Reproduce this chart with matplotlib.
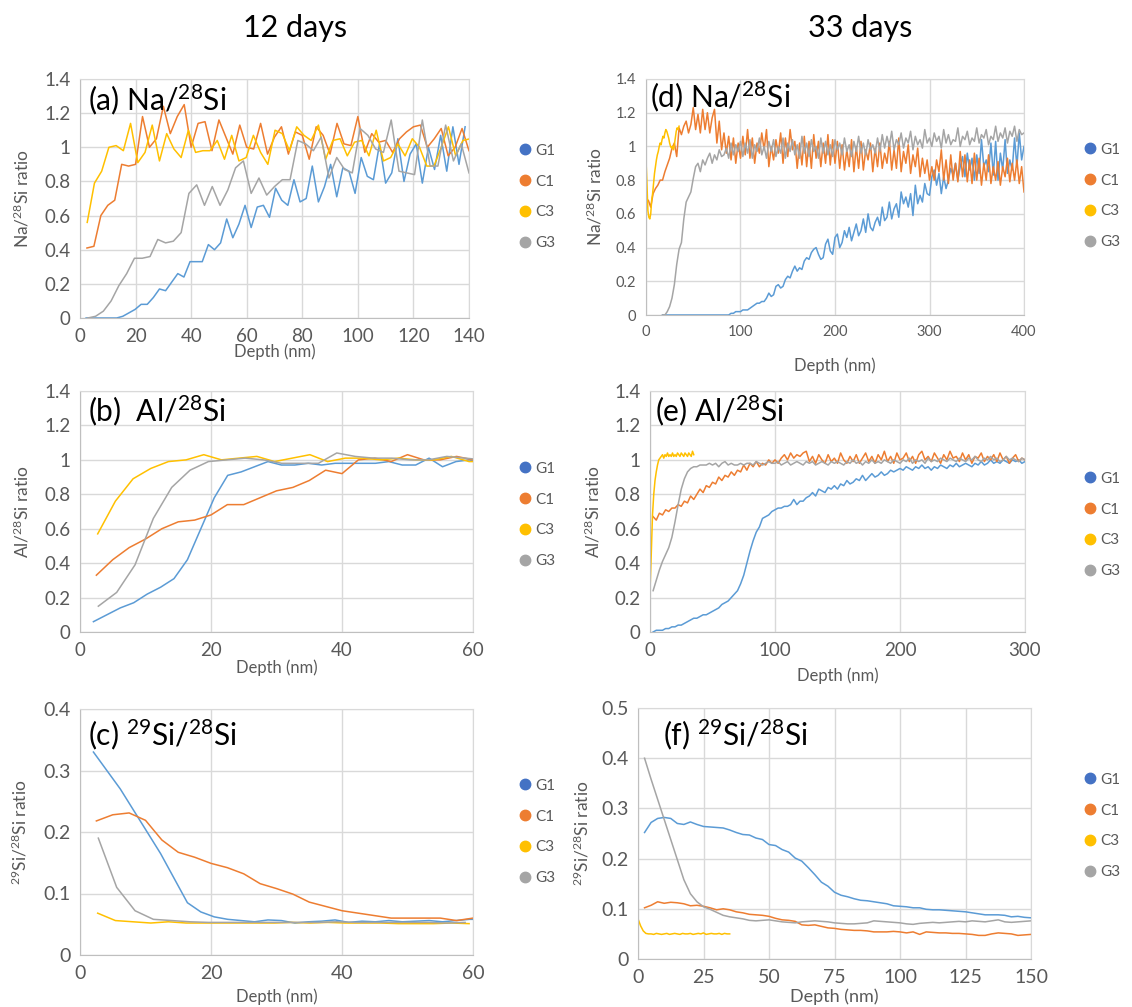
import numpy as np
import matplotlib
matplotlib.use('Agg')
import matplotlib.pyplot as plt
from matplotlib.lines import Line2D
from matplotlib.ticker import MultipleLocator, FuncFormatter

plt.rcParams['font.family'] = ['Lato', 'DejaVu Sans']
plt.rcParams['mathtext.default'] = 'regular'

W, H = 1132, 1007

SAMPLES = ['G1', 'C1', 'C3', 'G3']
LINE_COLORS = ['#5B9BD5', '#ED7D31', '#FFC000', '#A5A5A5']
DOT_COLORS = ['#4472C4', '#ED7D31', '#FFC000', '#A5A5A5']
TEXT_GRAY = '#595959'

# ---- 12 days: Na/28Si ----
NA12_G1 = [0, 0, 0, 0, 0, 0, 0.01, 0.03, 0.05, 0.08, 0.08, 0.12, 0.17, 0.16, 0.21, 0.26,
           0.24, 0.33, 0.33, 0.33, 0.43, 0.40, 0.44, 0.58, 0.47, 0.55, 0.66, 0.53, 0.65,
           0.66, 0.59, 0.76, 0.69, 0.66, 0.81, 0.68, 0.70, 0.89, 0.68, 0.77, 0.90, 0.71,
           0.88, 0.86, 0.73, 0.94, 0.83, 0.81, 1.02, 0.79, 0.85, 1.05, 0.80, 0.96, 1.02,
           0.79, 1.00, 0.87, 1.07, 0.86, 1.12, 0.90, 1.12]
NA12_C1 = [0.41, 0.42, 0.60, 0.66, 0.69, 0.90, 0.89, 0.90, 1.18, 1.00, 1.05, 1.24, 1.08,
           1.18, 1.25, 1.00, 1.14, 1.15, 0.98, 1.16, 1.06, 0.96, 1.13, 1.00, 0.99, 1.14,
           0.96, 1.06, 1.12, 0.96, 1.09, 1.07, 0.93, 1.12, 1.07, 0.96, 1.14, 1.02, 1.01,
           1.18, 0.97, 1.08, 1.03, 1.04, 0.97, 1.05, 1.09, 1.12, 1.13, 1.00, 1.05, 1.11,
           0.95, 1.00, 1.11, 0.98]
NA12_C3 = [0.56, 0.79, 0.86, 1.00, 1.01, 0.98, 1.14, 0.91, 0.97, 1.13, 0.92, 1.08, 0.99,
           0.94, 1.10, 0.97, 0.98, 0.98, 1.04, 0.93, 1.07, 0.92, 0.94, 1.07, 0.97, 0.90,
           1.10, 1.08, 0.98, 1.12, 1.07, 1.04, 1.13, 0.93, 1.04, 1.05, 0.95, 1.03, 1.04,
           0.95, 1.10, 0.92, 0.94, 1.02, 0.95, 1.05, 1.00, 0.89, 0.89, 1.00, 1.12, 0.95,
           1.04, 1.05]
NA12_G3 = [0.00, 0.01, 0.04, 0.10, 0.19, 0.26, 0.35, 0.35, 0.36, 0.46, 0.44, 0.45, 0.50,
           0.73, 0.78, 0.66, 0.77, 0.66, 0.75, 0.88, 0.92, 0.73, 0.82, 0.72, 0.77, 0.81,
           0.81, 1.04, 1.02, 0.98, 1.06, 0.82, 0.94, 0.87, 0.85, 1.11, 1.07, 0.99, 0.97,
           1.16, 0.86, 0.85, 0.84, 1.16, 0.89, 0.89, 1.13, 0.92, 1.02, 0.85]

# ---- 12 days: Al/28Si ----
AL12_G1 = [0.06, 0.10, 0.14, 0.17, 0.22, 0.26, 0.31, 0.42, 0.60, 0.78, 0.91, 0.93, 0.96,
           0.99, 0.97, 0.97, 0.98, 0.97, 0.98, 0.98, 0.98, 0.98, 0.99, 0.97, 0.97, 1.01,
           0.96, 0.99, 1.00, 0.98]
AL12_C1 = [0.33, 0.42, 0.49, 0.54, 0.60, 0.64, 0.65, 0.68, 0.74, 0.74, 0.78, 0.82, 0.84,
           0.88, 0.94, 0.92, 1.00, 1.01, 0.99, 1.03, 1.00, 1.00, 1.02, 1.00]
AL12_C3 = [0.57, 0.76, 0.89, 0.95, 0.99, 1.00, 1.03, 1.00, 1.01, 1.02, 0.99, 1.01, 1.03,
           0.99, 1.01, 1.01, 1.00, 1.01, 1.00, 1.00, 1.02, 0.99, 0.99]
AL12_G3 = [0.15, 0.23, 0.39, 0.66, 0.84, 0.94, 0.99, 1.00, 1.01, 1.00, 0.98, 0.98, 0.98,
           1.04, 1.02, 1.01, 1.01, 1.00, 1.00, 1.02, 1.01, 1.00]

# ---- 12 days: 29Si/28Si ----
SI12_G1 = [0.330, 0.300, 0.270, 0.235, 0.200, 0.165, 0.125, 0.085, 0.070, 0.062, 0.058,
           0.056, 0.054, 0.057, 0.056, 0.052, 0.054, 0.055, 0.057, 0.053, 0.055, 0.054,
           0.056, 0.054, 0.055, 0.056, 0.054, 0.056, 0.058, 0.058]
SI12_C1 = [0.218, 0.228, 0.231, 0.219, 0.187, 0.167, 0.159, 0.149, 0.142, 0.132, 0.116,
           0.108, 0.099, 0.086, 0.079, 0.072, 0.068, 0.064, 0.060, 0.060, 0.060, 0.060,
           0.056, 0.060]
SI12_C3 = [0.068, 0.056, 0.054, 0.052, 0.054, 0.052, 0.052, 0.052, 0.052, 0.052, 0.052,
           0.053, 0.052, 0.053, 0.052, 0.052, 0.052, 0.051, 0.051, 0.051, 0.052, 0.051]
SI12_G3 = [0.190, 0.110, 0.072, 0.058, 0.056, 0.054, 0.053, 0.053, 0.053, 0.053, 0.053,
           0.053, 0.053, 0.054, 0.053, 0.053, 0.053, 0.053, 0.053, 0.052, 0.053]

# ---- 33 days: Na/28Si ----
NA33_G1 = [0, 0, 0, 0, 0, 0, 0, 0, 0, 0, 0, 0, 0, 0, 0, 0, 0, 0, 0, 0, 0, 0, 0, 0, 0, 0,
           0, 0, 0,
           0.01, 0.01, 0.02, 0.02, 0.02, 0.03, 0.03, 0.03, 0.04, 0.05, 0.06, 0.07, 0.07,
           0.08, 0.08, 0.10, 0.13, 0.11, 0.12, 0.17, 0.18, 0.16, 0.17, 0.21, 0.23, 0.22,
           0.26, 0.29, 0.26, 0.28, 0.27, 0.32, 0.34, 0.33, 0.37, 0.39, 0.40, 0.36, 0.33,
           0.34, 0.42, 0.45, 0.38, 0.36, 0.46, 0.48, 0.40, 0.43, 0.50, 0.46, 0.52, 0.44,
           0.49, 0.54, 0.47, 0.50, 0.57, 0.49, 0.60, 0.52, 0.50, 0.55, 0.58, 0.53, 0.64,
           0.56, 0.58, 0.67, 0.57, 0.63, 0.66, 0.58, 0.73, 0.66, 0.70, 0.64, 0.72, 0.59,
           0.77, 0.66, 0.71, 0.67, 0.78, 0.72, 0.71, 0.82, 0.86, 0.77, 0.84, 0.72, 0.82,
           0.75, 0.80, 0.87, 0.83, 0.90, 0.80, 0.88, 0.94, 0.82, 0.96, 0.86, 0.93, 0.80,
           0.95, 0.84, 1.04, 0.88, 0.92, 0.85, 1.02, 0.83, 1.03, 0.80, 0.96, 0.86, 1.04,
           0.84, 0.92, 0.86, 1.05, 0.88, 1.08, 0.92, 1.00]
NA33_C1 = [0.68, 0.64, 0.72, 0.75, 0.77, 0.80, 0.80, 0.85, 0.89, 0.93, 0.99, 1.02, 0.94,
           1.11, 1.07, 1.12, 1.15, 1.08, 1.13, 1.23, 1.10, 1.19, 1.08, 1.22, 1.10, 1.20,
           1.08, 1.17, 1.22, 1.02, 1.15, 0.98, 1.08, 0.96, 1.06, 0.92,
           1.05, 0.90, 1.02, 0.93, 1.06, 0.95, 1.10, 0.93, 1.05, 0.90, 1.02, 0.96, 1.08,
           0.98, 1.10, 0.88, 1.00, 0.92, 1.04, 0.96, 1.08, 0.90, 1.05, 0.94, 1.10, 0.98,
           1.03, 0.87, 1.02, 0.89, 1.06, 0.88, 1.03, 0.87, 1.07, 0.93, 1.03, 0.88, 1.02,
           0.90, 1.07, 0.89, 1.04, 0.90,
           1.03, 0.87, 1.01, 0.86, 0.98, 0.88, 1.04, 0.85, 1.00, 0.87, 1.03, 0.86, 0.98,
           0.92, 1.02, 0.85, 0.99, 0.88, 1.02, 0.87, 0.96, 0.90, 1.03, 0.86, 0.98, 0.87,
           1.05, 0.85, 0.97, 0.90, 1.01, 0.84, 0.95, 0.88, 0.99, 0.82, 0.93, 0.84, 0.92,
           0.80,
           0.88, 0.80, 0.92, 0.85, 0.98, 0.80, 0.92, 0.78, 0.95, 0.80, 0.90, 0.79, 0.97,
           0.82, 0.95, 0.79, 0.92, 0.78, 0.96, 0.80, 0.93, 0.77, 0.90, 0.80, 0.95, 0.78,
           0.88, 0.80, 0.91, 0.77, 0.88, 0.82, 0.93, 0.79, 0.90, 0.80, 0.92, 0.78, 0.88,
           0.73]
NA33_C3 = [0.92, 0.78, 0.62, 0.58, 0.57, 0.60, 0.68, 0.72, 0.78, 0.84, 0.88, 0.92, 0.95,
           0.97, 1.00, 1.02, 1.01, 1.04, 1.06, 1.05, 1.08, 1.10, 1.09, 1.07, 1.05, 1.02,
           1.00, 0.99, 1.00, 0.98, 1.01, 1.05, 1.09, 1.11, 1.10, 1.12]
NA33_G3 = [0.00, 0.00, 0.02, 0.05, 0.10, 0.18, 0.30, 0.39, 0.43, 0.57, 0.67, 0.70, 0.73,
           0.81, 0.88, 0.90, 0.85, 0.92, 0.89, 0.93, 0.96, 0.90, 0.95, 0.92, 0.98, 0.94,
           0.95, 0.99, 0.93, 1.02, 0.95, 1.01, 0.97, 1.03,
           0.94, 1.02, 0.96, 1.04, 0.93, 1.01, 0.97, 1.05, 0.95, 1.00,
           0.93, 1.03, 0.97, 1.04, 0.94, 1.00, 0.96, 1.05, 0.93, 1.02,
           0.97, 1.04, 0.95, 1.01, 0.93, 1.06, 0.96, 1.02, 0.94, 1.04,
           0.97, 1.00, 0.93, 1.05, 0.96, 1.03, 0.95, 1.01, 0.94, 1.04,
           0.98, 1.02, 0.95, 1.05, 0.97, 1.01, 0.94, 1.03, 0.97, 1.06,
           0.96, 1.02, 0.95, 1.04, 0.98, 1.01, 0.96, 1.05, 0.97, 1.07,
           0.99, 1.06, 1.00, 1.09, 0.98, 1.04, 1.01, 1.08, 0.99, 1.05,
           1.02, 1.09, 0.98, 1.06, 1.01, 1.04, 0.99, 1.10, 1.02, 1.05,
           1.00, 1.08, 1.03, 1.06, 0.99, 1.10, 1.02, 1.07, 1.01, 1.04,
           1.03, 1.11, 1.00, 1.06, 1.04, 1.09, 1.01, 1.05, 1.03, 1.11,
           1.02, 1.07, 1.05, 1.10, 1.01, 1.06, 1.04, 1.12, 1.03, 1.08,
           1.05, 1.11, 1.02, 1.09, 1.06, 1.12, 1.03, 1.10, 1.07, 1.08]

# ---- 33 days: Al/28Si ----
AL33_G1 = [0.00, 0.01, 0.01, 0.01, 0.02, 0.02, 0.03, 0.03, 0.04, 0.04, 0.05, 0.06, 0.07,
           0.08, 0.08, 0.09, 0.10, 0.10, 0.11, 0.12, 0.13, 0.14, 0.16, 0.17, 0.18, 0.20,
           0.22, 0.24, 0.28, 0.33, 0.40, 0.47, 0.53, 0.58, 0.61, 0.66, 0.67, 0.68, 0.70,
           0.71,
           0.72, 0.72, 0.73, 0.73, 0.74, 0.77, 0.74, 0.76, 0.76, 0.78, 0.79, 0.81, 0.79,
           0.83, 0.82, 0.81, 0.84, 0.83, 0.85, 0.83, 0.86, 0.85, 0.88, 0.86, 0.87, 0.89,
           0.88, 0.91, 0.88, 0.90, 0.92, 0.90, 0.91, 0.93, 0.91, 0.92, 0.94, 0.93, 0.94,
           0.95,
           0.94, 0.96, 0.95, 0.94, 0.96, 0.95, 0.97, 0.95, 0.96, 0.94, 0.96, 0.95, 0.97,
           0.96, 0.95, 0.97, 0.96, 0.98, 0.96, 0.97, 0.98, 0.97, 0.96, 0.98, 0.97, 0.99,
           0.97, 0.98, 1.00, 0.98, 0.99, 0.98, 1.00, 0.99, 0.98, 1.00, 0.99, 1.00, 0.98,
           0.99]
AL33_C1 = [0.67, 0.65, 0.69, 0.68, 0.71, 0.70, 0.72, 0.72, 0.74, 0.73, 0.76, 0.75, 0.79,
           0.77, 0.80, 0.83, 0.81, 0.85, 0.84, 0.87, 0.86, 0.90, 0.88, 0.91, 0.90, 0.93,
           0.91, 0.94, 0.93, 0.97, 0.94, 0.98, 0.96, 0.99, 0.96, 0.98, 0.97, 1.00, 0.98,
           1.00, 0.98, 1.01, 1.03, 1.00, 1.04, 1.01, 1.03, 1.02, 1.04, 1.05,
           0.99, 1.02, 0.98, 1.03, 1.00, 0.98, 1.03, 0.99, 1.01, 0.98,
           1.04, 1.00, 0.98, 1.02, 0.99, 1.03, 0.98, 1.01, 1.04, 0.99,
           1.02, 0.98, 1.03, 1.00, 1.05, 0.99, 1.02, 0.98, 1.04, 1.00,
           1.01, 1.04, 0.99, 1.02, 0.98, 1.03, 1.05, 1.00, 1.02, 0.99,
           1.04, 1.01, 0.98, 1.03, 1.00, 1.05, 1.01, 1.02, 0.99, 1.04,
           1.00, 1.03, 0.98, 1.02, 1.01, 1.04, 0.99, 1.02, 1.00, 1.03,
           0.99, 1.04, 1.00, 1.02, 0.98, 1.01, 1.03, 0.99, 1.01, 1.00]
AL33_C3 = [0.24, 0.45, 0.68, 0.80, 0.88, 0.93, 0.97, 1.00, 1.01, 1.02, 1.03, 1.01, 1.03,
           1.02, 1.04, 1.02, 1.03, 1.02, 1.04, 1.02, 1.03, 1.02, 1.04, 1.03, 1.02, 1.04,
           1.03, 1.02, 1.04, 1.03, 1.02, 1.04, 1.03, 1.02, 1.05, 1.03]
AL33_G3 = [0.24, 0.30, 0.36, 0.41, 0.45, 0.49, 0.55, 0.64, 0.74, 0.83, 0.89, 0.93, 0.95,
           0.96, 0.96, 0.97, 0.97, 0.97, 0.98, 0.97, 0.98, 0.96, 0.98, 0.99, 0.97, 0.98,
           0.97, 0.97, 0.98, 0.97, 0.98, 0.98, 0.97, 0.99, 0.98, 0.97, 0.98, 0.99, 0.98,
           0.98,
           0.99, 0.97, 0.98, 0.99, 0.97, 0.98, 0.99, 0.98, 0.97, 0.99,
           0.98, 0.99, 0.97, 0.98, 0.99, 0.98, 0.97, 0.99, 0.98, 0.99,
           0.98, 0.97, 0.99, 0.98, 1.00, 0.98, 0.99, 0.97, 0.99, 0.98,
           1.00, 0.98, 0.99, 0.98, 1.00, 0.99, 0.98, 1.00, 0.99, 0.98,
           1.00, 0.99, 1.01, 0.98, 1.00, 0.99, 1.00, 0.98, 1.01, 0.99,
           1.00, 0.99, 1.01, 1.00, 0.99, 1.01, 1.00, 0.99, 1.01, 1.00,
           0.99, 1.01, 1.00, 1.02, 1.00, 0.99, 1.01, 1.00, 1.02, 1.00,
           1.01, 0.99, 1.00, 1.02, 1.00, 1.01, 1.00, 0.99, 1.01, 1.00]

# ---- 33 days: 29Si/28Si ----
SI33_G1 = [0.252, 0.272, 0.280, 0.282, 0.280, 0.270, 0.268, 0.273, 0.268, 0.264, 0.263,
           0.262, 0.261, 0.257, 0.252, 0.248, 0.247, 0.241, 0.238, 0.228, 0.226, 0.218,
           0.213, 0.201, 0.195, 0.182, 0.168, 0.153, 0.145, 0.133, 0.127, 0.124, 0.120,
           0.117, 0.116, 0.114, 0.112, 0.110, 0.106, 0.105, 0.104, 0.102, 0.102, 0.099,
           0.098, 0.098, 0.097, 0.096, 0.095, 0.094, 0.092, 0.090, 0.088, 0.088, 0.088,
           0.087, 0.084, 0.085, 0.083, 0.082]
SI33_C1 = [0.102, 0.107, 0.114, 0.111, 0.113, 0.112, 0.110, 0.106, 0.107, 0.105, 0.102,
           0.098, 0.100, 0.098, 0.094, 0.092, 0.089, 0.088, 0.087, 0.085, 0.081, 0.078,
           0.077, 0.075, 0.068, 0.067, 0.068, 0.065, 0.062, 0.061, 0.059, 0.058, 0.057,
           0.057, 0.056, 0.054, 0.054, 0.054, 0.055, 0.054, 0.052, 0.054, 0.049, 0.054,
           0.053, 0.052, 0.052, 0.051, 0.051, 0.050, 0.049, 0.047, 0.047, 0.050, 0.052,
           0.051, 0.050, 0.047, 0.048, 0.049]
SI33_C3 = [0.080, 0.066, 0.056, 0.051, 0.050, 0.050, 0.049, 0.051, 0.050, 0.049, 0.050,
           0.051, 0.049, 0.050, 0.051, 0.050, 0.049, 0.051, 0.050, 0.050, 0.051, 0.049,
           0.050, 0.051, 0.050, 0.052, 0.049, 0.050, 0.051, 0.050, 0.050, 0.051, 0.049,
           0.051, 0.050, 0.050]
SI33_G3 = [0.400, 0.358, 0.318, 0.278, 0.238, 0.198, 0.158, 0.130, 0.114, 0.104, 0.099,
           0.093, 0.087, 0.084, 0.082, 0.080, 0.077, 0.076, 0.077, 0.078, 0.076, 0.074,
           0.073, 0.072, 0.074, 0.075, 0.076, 0.075, 0.074, 0.072, 0.071, 0.070, 0.070,
           0.071, 0.072, 0.076, 0.075, 0.074, 0.073, 0.072, 0.070, 0.069, 0.071, 0.072,
           0.073, 0.072, 0.073, 0.074, 0.075, 0.074, 0.076, 0.075, 0.074, 0.076, 0.078,
           0.074, 0.073, 0.074, 0.075, 0.076]


def depth(start, step, values):
    # profiles are sampled at a constant depth step
    return start + step * np.arange(len(values))


fig = plt.figure(figsize=(W / 100, H / 100), dpi=100)


def add_panel(box, xmax, xstep, ymax, ystep, tick_size):
    l, t, r, b = box
    ax = fig.add_axes([l / W, 1 - b / H, (r - l) / W, (b - t) / H])
    ax.set_xlim(0, xmax)
    ax.set_ylim(0, ymax)
    ax.xaxis.set_major_locator(MultipleLocator(xstep))
    ax.yaxis.set_major_locator(MultipleLocator(ystep))
    fmt = FuncFormatter(lambda v, p: f'{round(v, 6):g}')
    ax.xaxis.set_major_formatter(fmt)
    ax.yaxis.set_major_formatter(fmt)
    ax.grid(True, color='#d9d9d9', lw=1)
    ax.set_axisbelow(True)
    ax.tick_params(length=0, labelsize=tick_size, colors=TEXT_GRAY, pad=7)
    for s in ax.spines.values():
        s.set_color('#d9d9d9')
    ax.spines['bottom'].set_color('#bfbfbf')
    ax.spines['left'].set_color('#bfbfbf')
    return ax


def draw(ax, series):
    for (x, y), c in zip(series, LINE_COLORS):
        ax.plot(x, y, color=c, lw=1.1, clip_on=True)


def legend(ax, px, py):
    handles = [Line2D([], [], ls='', marker='o', markersize=7.5, color=c) for c in DOT_COLORS]
    ax.legend(handles, SAMPLES, loc='center left', bbox_to_anchor=(px / W, 1 - py / H),
              bbox_transform=fig.transFigure, frameon=False, fontsize=11,
              labelcolor=TEXT_GRAY, handlelength=0.7, handletextpad=0.3,
              labelspacing=1.1, borderaxespad=0, borderpad=0)


def label(text, px, py, size=21.5):
    fig.text(px / W, 1 - py / H, text, fontsize=size, ha='left', va='center', color='black')


def axis_labels(xl_pos, yl_pos, ytext, xsize=12, ysize=12.5):
    fig.text(xl_pos[0] / W, 1 - xl_pos[1] / H, 'Depth (nm)', fontsize=xsize,
             color=TEXT_GRAY, ha='center', va='center')
    fig.text(yl_pos[0] / W, 1 - yl_pos[1] / H, ytext, fontsize=ysize, color=TEXT_GRAY,
             ha='center', va='center', rotation=90)


# 12 days column
ax_a = add_panel((80, 79, 469, 318), 140, 20, 1.4, 0.2, 13.5)
draw(ax_a, [(depth(2.2, 2.2, NA12_G1), NA12_G1), (depth(2.5, 2.5, NA12_C1), NA12_C1),
            (depth(2.6, 2.6, NA12_C3), NA12_C3), (depth(2.8, 2.8, NA12_G3), NA12_G3)])
legend(ax_a, 520, 197)
label('(a) Na/$^{28}$Si', 88, 100)
axis_labels((275, 352), (22, 199), 'Na/$^{28}$Si ratio')

ax_b = add_panel((80, 391, 473, 632), 60, 20, 1.4, 0.2, 13.5)
draw(ax_b, [(depth(2.05, 2.05, AL12_G1), AL12_G1), (depth(2.5, 2.5, AL12_C1), AL12_C1),
            (depth(2.7, 2.7, AL12_C3), AL12_C3), (depth(2.8, 2.8, AL12_G3), AL12_G3)])
legend(ax_b, 520, 515)
label('(b)  Al/$^{28}$Si', 88, 411)
axis_labels((277, 668), (22, 512), 'Al/$^{28}$Si ratio')

ax_c = add_panel((80, 709, 473, 955), 60, 20, 0.4, 0.1, 14)
draw(ax_c, [(depth(2.05, 2.05, SI12_G1), SI12_G1), (depth(2.5, 2.5, SI12_C1), SI12_C1),
            (depth(2.7, 2.7, SI12_C3), SI12_C3), (depth(2.8, 2.8, SI12_G3), SI12_G3)])
legend(ax_c, 520, 832)
label('(c) $^{29}$Si/$^{28}$Si', 88, 735)
axis_labels((277, 997), (20, 832), '$^{29}$Si/$^{28}$Si ratio')

# 33 days column
ax_d = add_panel((646, 79, 1024, 315), 400, 100, 1.4, 0.2, 10.5)
draw(ax_d, [(depth(17.5, 2.5, NA33_G1), NA33_G1), (depth(2.5, 2.5, NA33_C1), NA33_C1),
            (depth(0, 1, NA33_C3), NA33_C3), (depth(17.5, 2.5, NA33_G3), NA33_G3)])
legend(ax_d, 1085, 196)
label('(d) Na/$^{28}$Si', 650, 97)
axis_labels((835, 366), (595, 197), 'Na/$^{28}$Si ratio')

ax_e = add_panel((650, 391, 1025, 632), 300, 100, 1.4, 0.2, 13.5)
draw(ax_e, [(depth(2.5, 2.5, AL33_G1), AL33_G1), (depth(2.5, 2.5, AL33_C1), AL33_C1),
            (depth(0, 1, AL33_C3), AL33_C3), (depth(2.5, 2.5, AL33_G3), AL33_G3)])
legend(ax_e, 1085, 525)
label('(e) Al/$^{28}$Si', 655, 411)
axis_labels((838, 676), (593, 512), 'Al/$^{28}$Si ratio')

ax_f = add_panel((638, 708, 1031, 959), 150, 25, 0.5, 0.1, 14)
draw(ax_f, [(depth(2.5, 2.5, SI33_G1), SI33_G1), (depth(2.5, 2.5, SI33_C1), SI33_C1),
            (depth(0, 1, SI33_C3), SI33_C3), (depth(2.5, 2.5, SI33_G3), SI33_G3)])
legend(ax_f, 1085, 826)
label('(f) $^{29}$Si/$^{28}$Si', 663, 735)
axis_labels((834, 997), (582, 833), '$^{29}$Si/$^{28}$Si ratio', xsize=13)

fig.text(295 / W, 1 - 28 / H, '12 days', fontsize=22, ha='center', va='center')
fig.text(860 / W, 1 - 28 / H, '33 days', fontsize=22, ha='center', va='center')

fig.savefig('out.png', dpi=100, facecolor='white')
